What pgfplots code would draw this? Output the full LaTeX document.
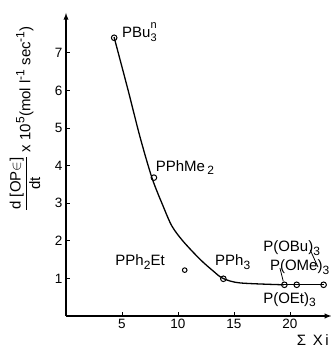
\documentclass[border=0pt]{standalone}
\usepackage{pgfplots}
\pgfplotsset{compat=1.18}
\usepackage{fontspec}
\setmainfont{Liberation Sans}
\newcommand{\sbs}[1]{\raisebox{-0.45ex}{\fontsize{12}{12}\selectfont #1}}
\newcommand{\sps}[1]{\raisebox{0.75ex}{\fontsize{12}{12}\selectfont #1}}
\newcommand{\lbl}{\fontsize{15}{17}\selectfont}
\begin{document}
\begin{tikzpicture}
\path[use as bounding box] (-66pt,-40pt) rectangle (265pt,316pt);
\begin{axis}[
  x=11.2pt, y=37.6pt,
  xmin=0, xmax=23.7, ymin=0, ymax=8.06,
  axis lines=left,
  axis line style={line width=1.3pt, -latex},
  xtick={5,10,15,20}, ytick={1,2,3,4,5,6,7},
  tick align=inside,
  major tick length=4pt,
  tick style={line width=0.8pt, black},
  tick label style={font=\fontsize{13.5}{15}\selectfont},
  /pgf/number format/assume math mode=true,
  clip=false,
]
\addplot[black, line width=1.3pt, smooth, tension=0.5] coordinates {
  (4.29,7.42) (5.54,6.01) (6.61,4.76) (7.68,3.67) (8.66,2.93) (9.46,2.39)
  (10.45,1.99) (11.96,1.51) (13.13,1.20) (14.02,1.0) (15.54,0.88) (19.46,0.83)
};
\addplot[black, line width=1.3pt] coordinates {(19.46,0.83) (23.0,0.83)};
\addplot[only marks, mark=o, mark size=2.8pt, mark options={line width=1pt, fill=white, draw=black}] coordinates {
  (4.3,7.4) (7.85,3.68) (14.05,0.99) (19.5,0.83) (20.6,0.83) (23.0,0.83)
};
\addplot[only marks, mark=o, mark size=2.3pt, mark options={line width=1pt, fill=white, draw=black}] coordinates {
  (10.6,1.22)
};
\draw[line width=0.8pt] (axis cs:21.8,1.76) -- (axis cs:22.5,1.30);
\draw[line width=0.8pt] (axis cs:19.1,1.28) -- (axis cs:19.4,0.92);
\node[anchor=west, inner sep=0pt] at (axis cs:5.0,7.55) {\lbl PBu\rlap{\raisebox{1.1ex}{\fontsize{11}{11}\selectfont n}}\raisebox{-0.55ex}{\fontsize{11}{11}\selectfont 3}};
\node[anchor=west, inner sep=0pt] at (axis cs:8.0,3.95) {\lbl PPhMe\,\sbs{2}};
\node[anchor=west, inner sep=0pt] at (axis cs:4.4,1.43) {\lbl PPh\sbs{2}Et};
\node[anchor=west, inner sep=0pt] at (axis cs:13.3,1.44) {\lbl PPh\sbs{3}};
\node[anchor=west, inner sep=0pt] at (axis cs:17.6,1.81) {\lbl P(OBu)\sbs{3}};
\node[anchor=west, inner sep=0pt] at (axis cs:18.2,1.30) {\lbl P(OMe)\sbs{3}};
\node[anchor=west, inner sep=0pt] at (axis cs:17.6,0.43) {\lbl P(OEt)\sbs{3}};
\node[anchor=west, inner sep=0pt] at (axis cs:20.6,-0.64) {\lbl Σ\, X\,i};
\node[rotate=90, inner sep=0pt] at (axis cs:-3.66,5.25) {\fontsize{15}{17}\selectfont
  $\displaystyle\frac{\mbox{d [OP$\in$]}}{\mbox{dt}}$ x 10\sps{5}(mol l\sps{-1} sec\sps{-1})};
\end{axis}
\end{tikzpicture}
\end{document}
